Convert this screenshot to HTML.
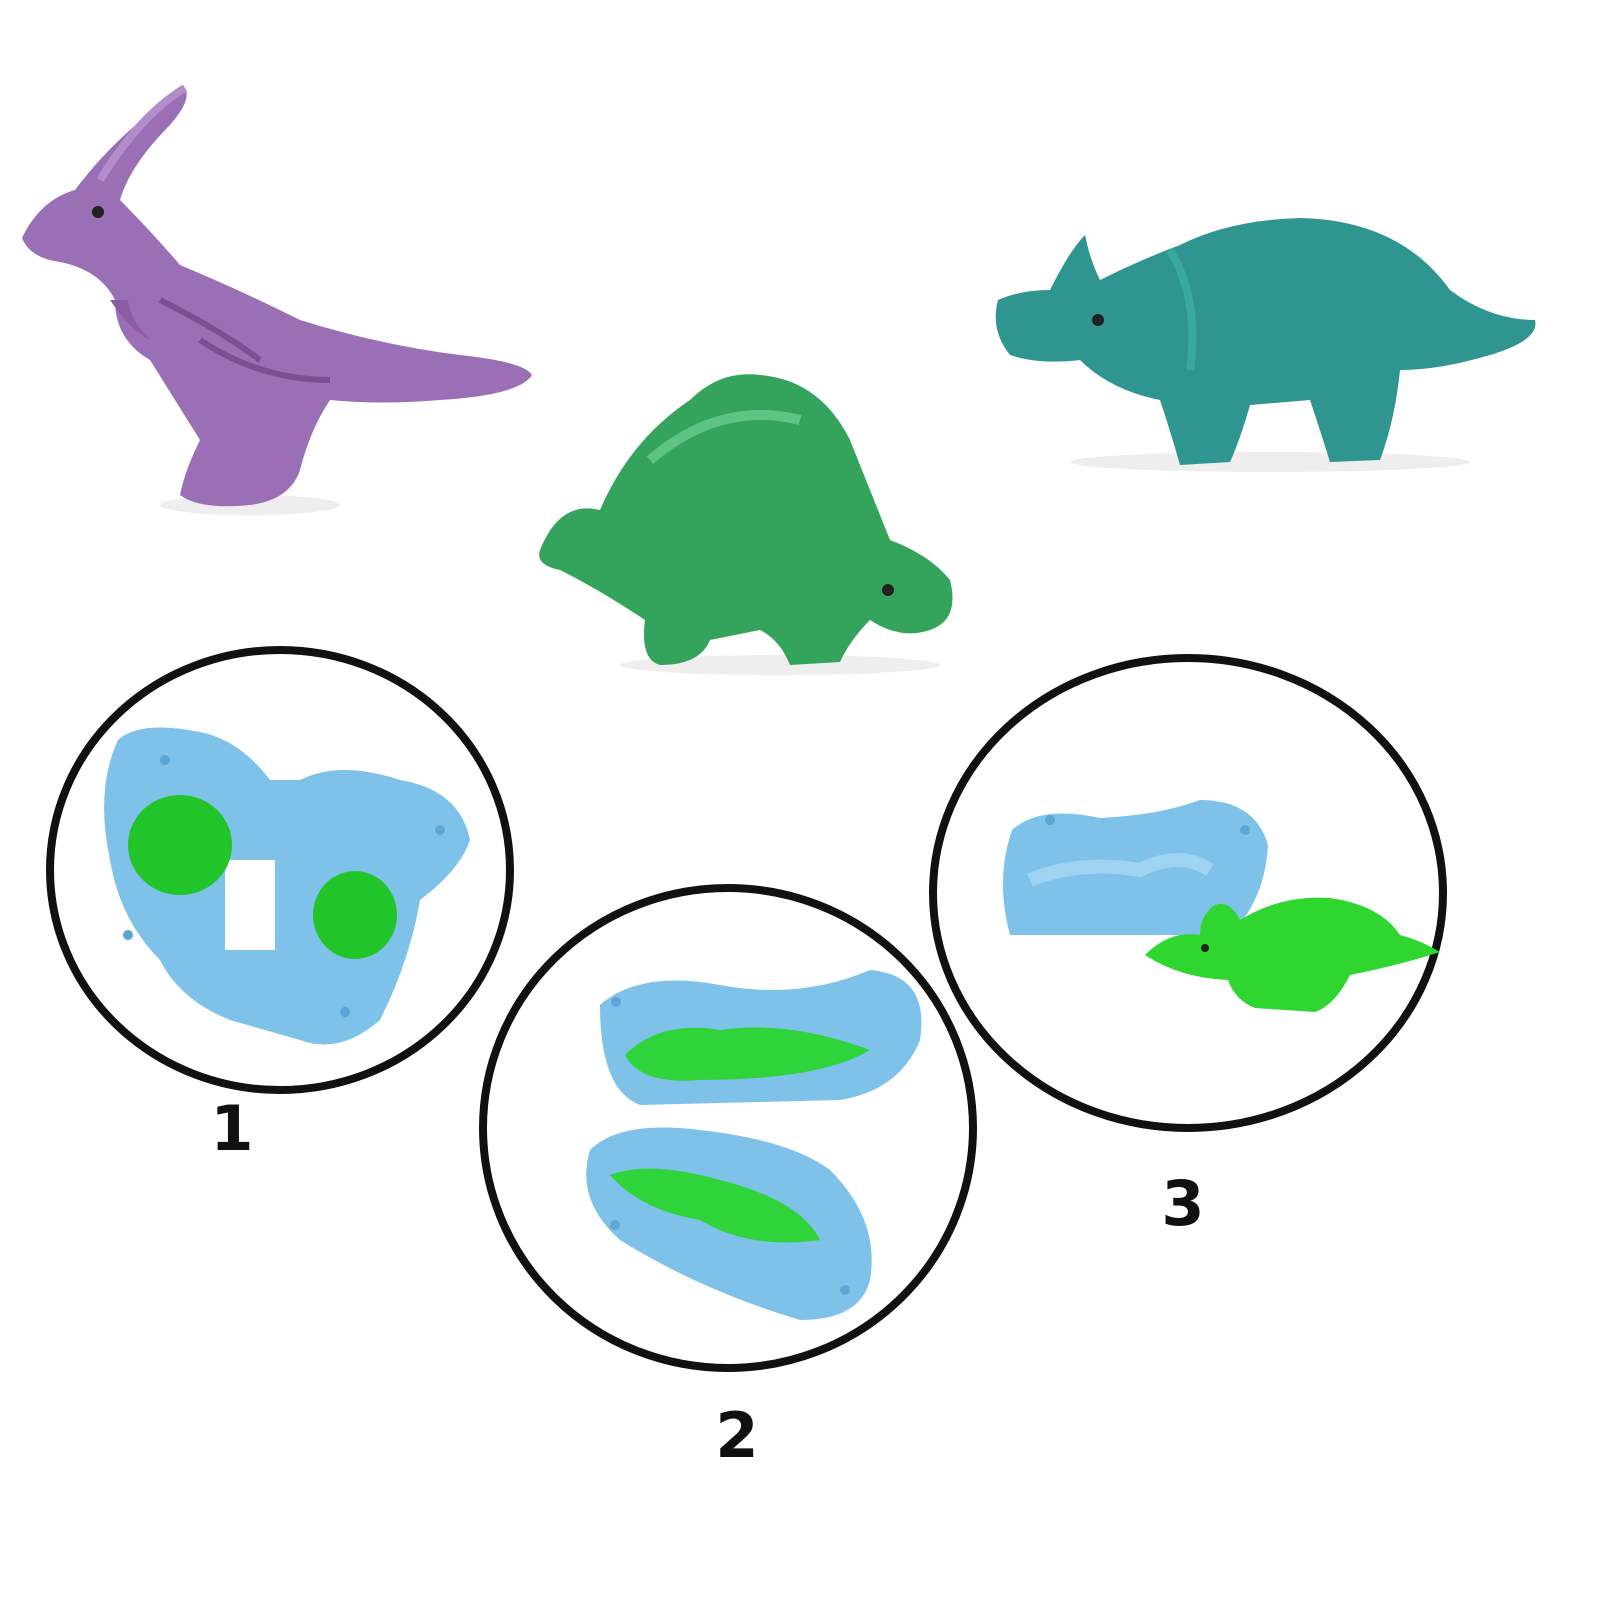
<!DOCTYPE html>
<html><head><meta charset="utf-8"><style>
html,body{margin:0;padding:0;background:#fff;}
svg{display:block}
text{font-family:"DejaVu Sans","Liberation Sans",sans-serif;}
</style></head><body>
<svg width="1600" height="1600" viewBox="0 0 1600 1600">
<rect width="1600" height="1600" fill="#fff"/>
<!-- purple dinosaur -->
<g>
<ellipse cx="250" cy="505" rx="90" ry="10" fill="#eee"/>
<path d="M22 238 Q40 200 75 190 Q120 130 185 88 Q192 100 170 125 Q130 165 120 200 Q150 230 180 265 Q240 290 300 320 Q380 345 460 355 Q525 362 532 375 Q520 395 440 400 Q380 405 330 400 Q310 430 300 470 Q290 500 250 505 Q200 510 180 495 Q185 470 200 440 Q175 400 150 360 Q115 340 115 300 Q100 270 60 262 Q30 258 22 238 Z" fill="#9b6fb6"/>
<path d="M185 88 Q140 115 100 180" stroke="#b58ccb" stroke-width="8" fill="none"/>
<path d="M160 300 Q220 330 260 360 M200 340 Q260 380 330 380" stroke="#7a4f94" stroke-width="6" fill="none"/>
<path d="M110 300 Q130 330 150 340 Q130 320 128 300 Z" fill="#8a5da6"/>
<circle cx="98" cy="212" r="6" fill="#222"/>
</g>
<!-- green stegosaurus -->
<g>
<ellipse cx="780" cy="665" rx="160" ry="10" fill="#eee"/>
<path d="M540 550 Q560 500 600 510 Q630 440 690 400 Q720 370 760 375 Q820 380 850 440 Q870 490 890 540 Q930 555 950 580 Q960 620 930 630 Q900 640 870 620 Q850 640 840 662 L790 665 Q780 640 760 630 L710 640 Q700 665 660 665 Q640 660 645 620 Q600 590 560 570 Q535 565 540 550 Z" fill="#34a45c"/>
<path d="M650 460 Q720 400 800 420" stroke="#5fc483" stroke-width="10" fill="none"/>
<circle cx="888" cy="590" r="6" fill="#222"/>
</g>
<!-- teal triceratops -->
<g>
<ellipse cx="1270" cy="462" rx="200" ry="10" fill="#eee"/>
<path d="M998 300 Q1020 290 1050 290 Q1070 250 1085 235 Q1090 260 1100 280 Q1140 260 1180 245 Q1230 220 1300 218 Q1400 220 1450 290 Q1490 320 1535 320 Q1540 340 1490 355 Q1440 370 1400 370 Q1395 420 1380 460 L1330 462 Q1320 430 1310 400 L1250 405 Q1240 440 1230 462 L1180 465 Q1170 430 1160 400 Q1110 390 1080 360 Q1040 365 1010 355 Q990 330 998 300 Z" fill="#2f9590"/>
<path d="M1170 250 Q1200 300 1190 370" stroke="#3aa8a2" stroke-width="8" fill="none"/>
<circle cx="1098" cy="320" r="6" fill="#222"/>
</g>
<!-- circle 1 -->
<g>
<ellipse cx="280" cy="870" rx="230" ry="220" fill="none" stroke="#111" stroke-width="8"/>
<path d="M118 740 Q140 720 200 732 Q240 740 270 780 L300 780 Q340 760 400 780 Q460 790 470 840 Q460 870 420 900 Q410 960 380 1020 Q340 1055 300 1040 L230 1020 Q180 1000 160 960 Q120 920 110 860 Q95 790 118 740 Z" fill="#7ec2ea"/>
<rect x="225" y="860" width="50" height="90" fill="#fff"/>
<ellipse cx="180" cy="845" rx="52" ry="50" fill="#21c52a"/>
<ellipse cx="355" cy="915" rx="42" ry="44" fill="#21c52a"/>
<circle cx="165" cy="760" r="5" fill="#5aa6d4"/><circle cx="128" cy="935" r="5" fill="#5aa6d4"/><circle cx="440" cy="830" r="5" fill="#5aa6d4"/><circle cx="345" cy="1012" r="5" fill="#5aa6d4"/>
</g>
<text x="232" y="1150" font-size="62" font-weight="bold" text-anchor="middle" fill="#111">1</text>
<!-- circle 2 -->
<g>
<ellipse cx="728" cy="1128" rx="245" ry="240" fill="none" stroke="#111" stroke-width="8"/>
<path d="M600 1005 Q640 970 720 985 Q800 1000 870 970 Q930 975 920 1040 Q900 1090 840 1100 L640 1105 Q600 1090 600 1005 Z" fill="#7ec2ea"/>
<path d="M590 1150 Q620 1120 700 1130 Q790 1140 830 1170 Q880 1220 870 1280 Q860 1320 800 1320 Q700 1290 620 1240 Q575 1200 590 1150 Z" fill="#7ec2ea"/>
<path d="M625 1055 Q660 1020 720 1030 Q790 1020 870 1050 Q820 1080 700 1080 Q640 1085 625 1055 Z" fill="#2fd33a"/>
<path d="M610 1175 Q650 1160 720 1180 Q800 1200 820 1240 Q750 1250 700 1220 Q640 1210 610 1175 Z" fill="#2fd33a"/>
<circle cx="616" cy="1002" r="5" fill="#5aa6d4"/><circle cx="615" cy="1225" r="5" fill="#5aa6d4"/><circle cx="845" cy="1290" r="5" fill="#5aa6d4"/>
</g>
<text x="737" y="1457" font-size="62" font-weight="bold" text-anchor="middle" fill="#111">2</text>
<!-- circle 3 -->
<g>
<ellipse cx="1188" cy="893" rx="255" ry="235" fill="none" stroke="#111" stroke-width="8"/>
<path d="M1012 830 Q1040 805 1100 818 Q1160 815 1200 800 Q1255 800 1268 845 Q1265 900 1230 935 L1010 935 Q995 880 1012 830 Z" fill="#7ec2ea"/>
<path d="M1030 880 Q1080 860 1140 870 Q1180 850 1210 870" stroke="#9fd3f2" stroke-width="14" fill="none"/>
<path d="M1145 955 Q1170 930 1200 935 Q1200 915 1215 905 Q1230 900 1240 920 Q1280 895 1330 898 Q1380 905 1400 935 Q1420 940 1440 952 Q1400 965 1350 975 Q1335 1005 1315 1012 L1255 1008 Q1235 1000 1228 980 Q1180 978 1145 955 Z" fill="#30d630"/>
<circle cx="1205" cy="948" r="4" fill="#222"/>
<circle cx="1050" cy="820" r="5" fill="#5aa6d4"/><circle cx="1245" cy="830" r="5" fill="#5aa6d4"/>
</g>
<text x="1183" y="1225" font-size="62" font-weight="bold" text-anchor="middle" fill="#111">3</text>
</svg>
</body></html>
